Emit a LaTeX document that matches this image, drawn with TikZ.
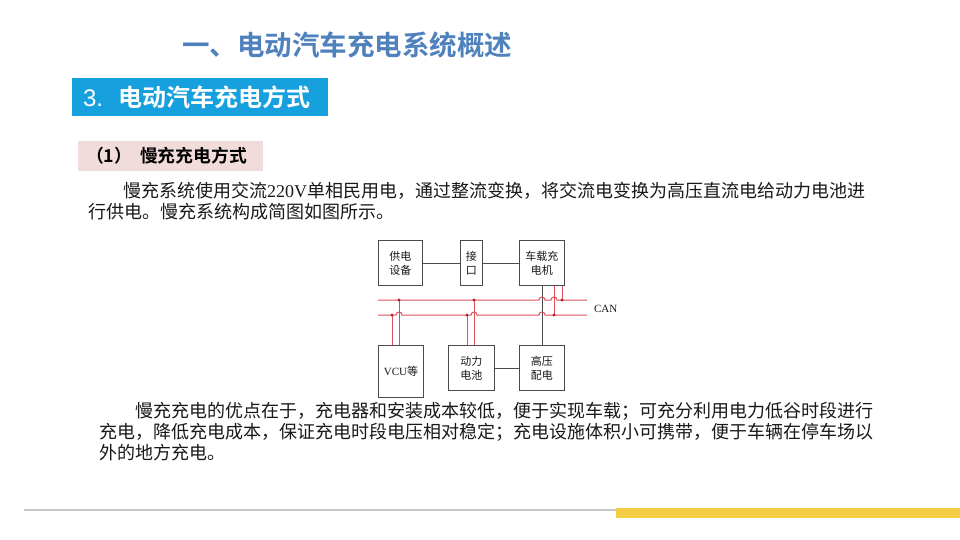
\documentclass[tikz,border=0pt]{standalone}
\usepackage{fontspec}
\setmainfont{Liberation Serif}
\newfontfamily\cjk{Noto Sans CJK SC}
\newfontfamily\cjkb{Noto Sans CJK SC Bold}
\newfontfamily\sansf{Liberation Sans}
\definecolor{titleblue}{RGB}{79,129,189}
\definecolor{barblue}{RGB}{22,160,222}
\definecolor{pinkbar}{RGB}{242,220,219}
\definecolor{linegray}{RGB}{75,75,75}
\definecolor{canred}{RGB}{220,80,90}
\definecolor{dotred}{RGB}{180,30,40}
\definecolor{footgray}{RGB}{200,200,200}
\definecolor{footyellow}{RGB}{244,205,68}
\definecolor{bodytext}{RGB}{25,25,25}
\tikzset{
  txt/.style={inner sep=0pt, outer sep=0pt, anchor=west},
  para/.style={txt, text=bodytext, font=\cjk\fontsize{18}{21}\selectfont},
  box/.style={draw=linegray, line width=0.9pt, anchor=north west, inner sep=0pt,
    align=center, text=bodytext, font=\cjk\fontsize{11}{14}\selectfont},
  wire/.style={draw=linegray, line width=0.9pt},
  canline/.style={draw=canred, line width=1pt},
  jdot/.style={fill=dotred}
}
\begin{document}
\begin{tikzpicture}[x=1pt,y=-1pt]
\useasboundingbox (0,0) rectangle (960,540);
\fill[white] (0,0) rectangle (960,540);

% headings
\node[txt, text=titleblue, font=\cjkb\fontsize{27.5}{30}\selectfont] (title) at (182,45) {一、电动汽车充电系统概述};
\node[fill=barblue, minimum width=256pt, minimum height=38pt, anchor=north west, inner sep=0pt] (bar) at (72,78) {};
\node[txt, text=white, font=\fontsize{24}{26}\selectfont] (bartext) at (83,97) {{\sansf 3.}\hspace{15pt}{\cjkb 电动汽车充电方式}};
\node[fill=pinkbar, minimum width=185pt, minimum height=30pt, anchor=north west, inner sep=0pt] (pink) at (78,141) {};
\node[txt, text=black, font=\cjkb\fontsize{17.8}{20}\selectfont] (pinktext) at (86,156) {（1）\hspace{8pt}慢充充电方式};

% paragraph 1
\node[para] (p1a) at (123,191) {慢充系统使用交流{\rmfamily 220V}单相民用电，通过整流变换，将交流电变换为高压直流电给动力电池进};
\node[para] (p1b) at (88,212) {行供电。慢充系统构成简图如图所示。};

% diagram boxes
\node[box, minimum width=44pt, minimum height=45pt] (A) at (378,240) {供电\\设备};
\node[box, minimum width=22pt, minimum height=45pt] (B) at (460,240) {接\\口};
\node[box, minimum width=45pt, minimum height=45pt] (C) at (519,240) {车载充\\电机};
\node[box, minimum width=45pt, minimum height=52pt] (D) at (378,345) {{\rmfamily VCU}等};
\node[box, minimum width=46pt, minimum height=45pt] (E) at (448,345) {动力\\电池};
\node[box, minimum width=45pt, minimum height=45pt] (F) at (519,345) {高压\\配电};

% power wires
\draw[wire] (A) -- (B);
\draw[wire] (B) -- (C);
\draw[wire] (C.south) -- (F.north);
\draw[wire] (E) -- (F);

% CAN bus
\coordinate (canUL) at (378,300);
\coordinate (canUR) at (587,300);
\coordinate (canLL) at (378,315);
\coordinate (canLR) at (587,315);
\draw[canline] (canUL) -- (539,300) .. controls (539,296) and (545,296) .. (545,300)
  -- (551,300) .. controls (551,296) and (557,296) .. (557,300) -- (canUR);
\draw[canline] (canLL) -- (396,315) .. controls (396,311) and (402,311) .. (402,315)
  -- (471,315) .. controls (471,311) and (477,311) .. (477,315)
  -- (539,315) .. controls (539,311) and (545,311) .. (545,315) -- (canLR);
\node[txt, font=\fontsize{11}{12}\selectfont, text=bodytext] (can) at (594,309) {CAN};

% junctions
\coordinate (jC1) at (554,315);
\coordinate (jC2) at (562,300);
\coordinate (jD1) at (392,315);
\coordinate (jD2) at (399,300);
\coordinate (jE1) at (467,315);
\coordinate (jE2) at (474,300);
\draw[canline] (C.south -| jC1) -- (jC1);
\draw[canline] (C.south -| jC2) -- (jC2);
\draw[canline] (jD1) -- (jD1 |- D.north);
\draw[canline] (jD2) -- (jD2 |- D.north);
\draw[canline] (jE1) -- (jE1 |- E.north);
\draw[canline] (jE2) -- (jE2 |- E.north);
\foreach \p in {jC1,jC2,jD1,jD2,jE1,jE2} \fill[jdot] (\p) circle (1.6pt);

% paragraph 2
\node[para] (p2a) at (135,411) {慢充充电的优点在于，充电器和安装成本较低，便于实现车载；可充分利用电力低谷时段进行};
\node[para] (p2b) at (99,432) {充电，降低充电成本，保证充电时段电压相对稳定；充电设施体积小可携带，便于车辆在停车场以};
\node[para] (p2c) at (99,453) {外的地方充电。};

% footer
\draw[footgray, line width=1.2pt] (24,510) -- (616,510);
\fill[footyellow] (616,508) rectangle (960,518);
\end{tikzpicture}
\end{document}
